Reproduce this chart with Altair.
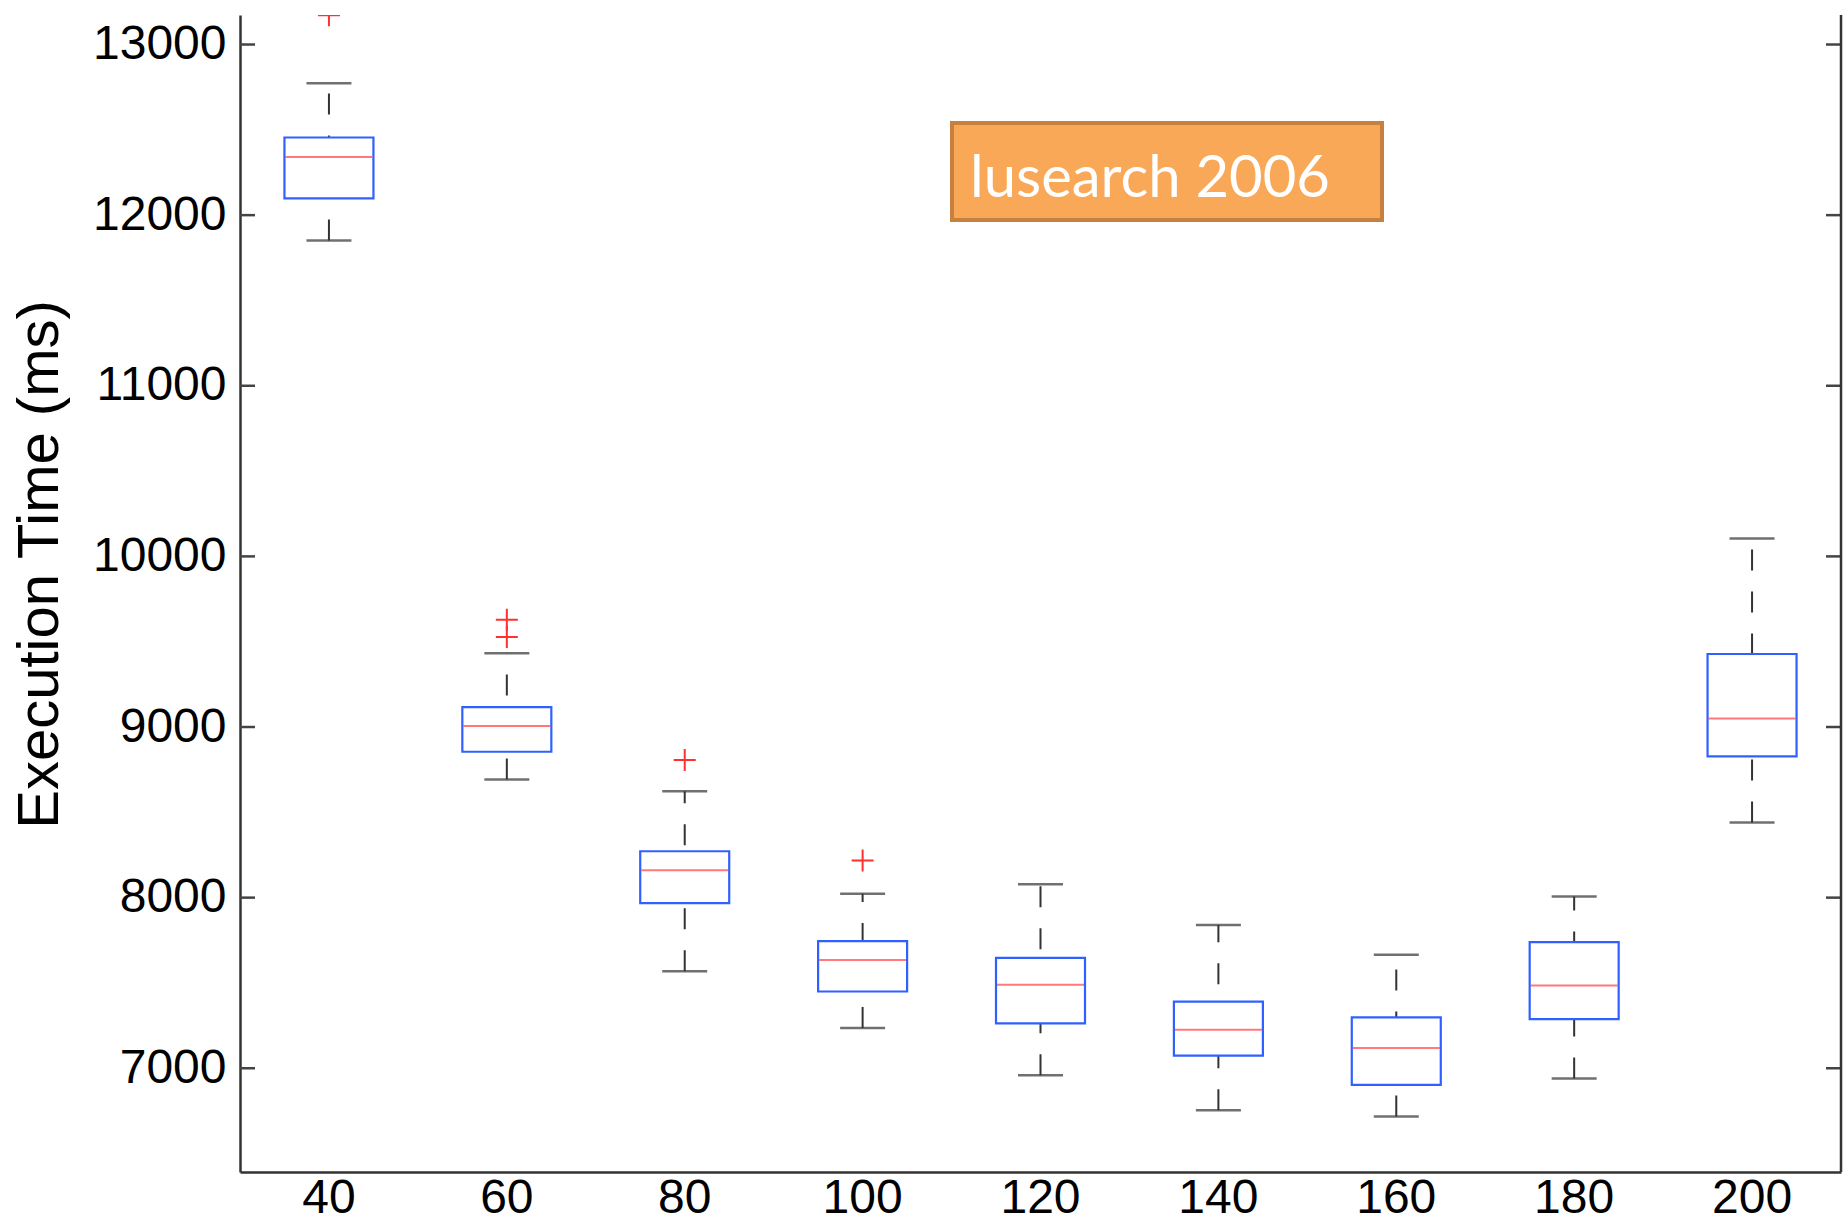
import altair as alt
import pandas as pd

# ---- data ----
threads = ["40", "60", "80", "100", "120", "140", "160", "180", "200"]
lower_whisker = [11852, 8692, 7569, 7236, 6959, 6754, 6717, 6940, 8440]
q1 = [12098, 8855, 7968, 7450, 7263, 7074, 6903, 7288, 8828]
median = [12341, 9006, 8161, 7635, 7489, 7226, 7119, 7485, 9050]
q3 = [12455, 9117, 8272, 7745, 7647, 7390, 7298, 7739, 9428]
upper_whisker = [12773, 9433, 8624, 8023, 8078, 7840, 7665, 8006, 10105]
outlier_threads = ["40", "60", "60", "80", "100"]
outlier_values = [13171, 9528, 9628, 8807, 8218]
y_ticks = [7000, 8000, 9000, 10000, 11000, 12000, 13000]
annotation = "lusearch 2006"

W, H = 1601, 1157
Y_DOMAIN = [6392, 13173]

box_df = pd.DataFrame({
    "t": threads, "lo": lower_whisker, "q1": q1, "med": median,
    "q3": q3, "hi": upper_whisker,
})
out_df = pd.DataFrame({"t": outlier_threads, "v": outlier_values})
tick_df = pd.DataFrame({"v": y_ticks})
one_df = pd.DataFrame({"label": [annotation]})

x_enc = alt.X(
    "t:N", sort=threads, title=None,
    scale=alt.Scale(paddingInner=0, paddingOuter=0),
    axis=alt.Axis(labelAngle=0, labelFont="Liberation Sans", labelFontSize=48,
                  labelColor="black", labelPadding=2, ticks=False, tickSize=0,
                  domainColor="#333333", domainWidth=2.5, grid=False),
)
y_scale = alt.Scale(domain=Y_DOMAIN, nice=False, zero=False)
y_axis = alt.Axis(values=y_ticks, format="d", labelFont="Liberation Sans",
                  labelFontSize=48, labelColor="black", labelPadding=14,
                  ticks=False, tickSize=0, grid=False,
                  domainColor="#333333", domainWidth=2.5,
                  title="Execution Time (ms)", titleFont="Liberation Sans",
                  titleFontSize=58, titleFontWeight="normal", titleColor="black",
                  titleAngle=270, titleAlign="center", titleBaseline="middle",
                  titleX=-200, titleY=549)

base = alt.Chart(box_df)

whisker = base.mark_rule(color="#333333", strokeWidth=2, strokeDash=[21, 21]).encode(
    x=x_enc,
    y=alt.Y("lo:Q", scale=y_scale, axis=y_axis),
    y2="hi:Q",
)
box = base.mark_bar(size=89, fill="white", stroke="#3060FF", strokeWidth=2.2).encode(
    x=alt.X("t:N", sort=threads),
    y=alt.Y("q1:Q", scale=y_scale),
    y2="q3:Q",
)
med = base.mark_tick(size=87, thickness=2, color="#FF4040").encode(
    x=alt.X("t:N", sort=threads),
    y=alt.Y("med:Q", scale=y_scale),
)
cap_lo = base.mark_tick(size=45, thickness=2.5, color="#333333").encode(
    x=alt.X("t:N", sort=threads),
    y=alt.Y("lo:Q", scale=y_scale),
)
cap_hi = base.mark_tick(size=45, thickness=2.5, color="#333333").encode(
    x=alt.X("t:N", sort=threads),
    y=alt.Y("hi:Q", scale=y_scale),
)
outliers = alt.Chart(out_df).mark_point(
    shape="M-1,0H1M0,-1V1", filled=False, size=484, stroke="#FF3030",
    strokeWidth=2, opacity=1, clip=True,
).encode(
    x=alt.X("t:N", sort=threads),
    y=alt.Y("v:Q", scale=y_scale),
)
ticks_left = alt.Chart(tick_df).mark_rule(color="#444444", strokeWidth=2.5).encode(
    y=alt.Y("v:Q", scale=y_scale), x=alt.value(0), x2=alt.value(15),
)
ticks_right = alt.Chart(tick_df).mark_rule(color="#444444", strokeWidth=2.5).encode(
    y=alt.Y("v:Q", scale=y_scale), x=alt.value(W - 15), x2=alt.value(W),
)
right_line = alt.Chart(one_df).mark_rule(color="#333333", strokeWidth=2.5).encode(
    x=alt.value(W), y=alt.value(0), y2=alt.value(H),
)
ann_box = alt.Chart(one_df).mark_rect(fill="#F9A857", stroke="#C8803F", strokeWidth=4).encode(
    x=alt.value(712), x2=alt.value(1142), y=alt.value(108), y2=alt.value(205),
)
ann_text = alt.Chart(one_df).mark_text(
    align="left", baseline="alphabetic", font="Lato", fontSize=58, color="white",
).encode(x=alt.value(730), y=alt.value(182), text="label:N")

chart = alt.layer(
    whisker, box, med, cap_lo, cap_hi, outliers,
    ticks_left, ticks_right, right_line, ann_box, ann_text,
).properties(
    width=W, height=H,
    padding={"left": 11, "top": 13, "right": 0, "bottom": 0},
    background="white",
).configure_view(stroke=None)

chart.save("out.html", embed_options={"renderer": "svg", "actions": False})
